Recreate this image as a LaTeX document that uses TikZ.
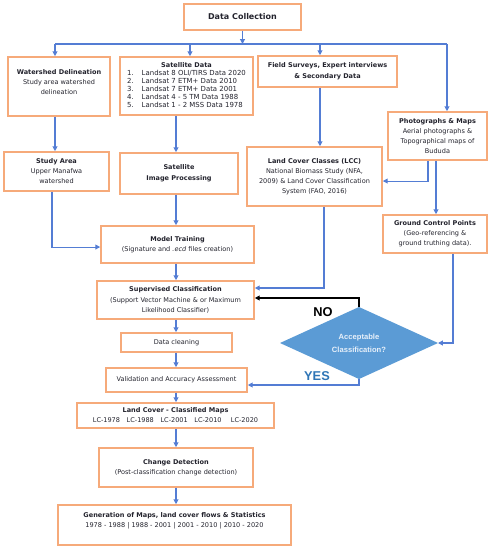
\documentclass[tikz,border=0pt]{standalone}
\usepackage{fontspec}
\setmainfont{DejaVu Sans}
\newfontfamily\libfont{Liberation Sans}
\usetikzlibrary{arrows.meta}
\definecolor{boxor}{RGB}{246,170,122}
\definecolor{lnblue}{RGB}{84,125,212}
\definecolor{dmblue}{RGB}{91,155,213}
\definecolor{yesblue}{RGB}{46,117,182}
\definecolor{txt}{RGB}{35,35,45}
\definecolor{dmtext}{RGB}{232,240,250}
\begin{document}
\begin{tikzpicture}[x=0.75pt,y=-0.75pt,
 box/.style={draw=boxor,line width=1.2pt,align=center,inner sep=0pt,text=txt,font=\fontsize{4.9}{7.5}\selectfont},
 plain/.style={align=center,inner sep=0pt,text=txt,font=\fontsize{4.9}{7.5}\selectfont},
 bw/.style={minimum width=#1*0.75pt},
 bh/.style={minimum height=#1*0.75pt},
 conn/.style={draw=lnblue,line width=0.8pt},
 arr/.style={conn,-{Triangle[length=3.6pt,width=3.6pt]}},
 lbl/.style={font=\libfont\bfseries\fontsize{9.6}{10}\selectfont,inner sep=0pt}
]
\useasboundingbox (0,0) rectangle (490,550);

% boxes
\node[box,bw=117,bh=26,font=\bfseries\fontsize{6}{7.5}\selectfont] (dc) at (242.5,17) {Data Collection};
\node[box,bw=102,bh=59] (wd) at (59,86.5) {};
\node[plain] (wdt) at (59,82) {\textbf{Watershed Delineation}\\Study area watershed\\delineation};
\node[box,bw=133,bh=58,font=\fontsize{5.2}{6}\selectfont] (sd) at (186.5,86) {%
\begin{tabular}{@{}l@{\hspace{6pt}}l@{}}
\multicolumn{2}{c}{\bfseries\fontsize{4.9}{6}\selectfont Satellite Data}\\
1. & Landsat 8 OLI/TIRS Data 2020\\
2. & Landsat 7 ETM+ Data 2010\\
3. & Landsat 7 ETM+ Data 2001\\
4. & Landsat 4 - 5 TM Data 1988\\
5. & Landsat 1 - 2 MSS Data 1978
\end{tabular}};
\node[box,bw=139,bh=31,font=\bfseries\fontsize{4.9}{8}\selectfont] (fs) at (327.5,71.5) {Field Surveys, Expert interviews\\\& Secondary Data};
\node[box,bw=99,bh=48] (pm) at (437.5,136) {\textbf{Photographs \& Maps}\\Aerial photographs \&\\Topographical maps of\\Bududa};
\node[box,bw=105,bh=39] (sa) at (56.5,171.5) {\textbf{Study Area}\\Upper Manafwa\\watershed};
\node[box,bw=118,bh=41,font=\bfseries\fontsize{4.9}{8.2}\selectfont] (sip) at (179,173.5) {Satellite\\Image Processing};
\node[box,bw=135,bh=59] (lcc) at (314.5,176.5) {\textbf{Land Cover Classes (LCC)}\\National Biomass Study (NFA,\\2009) \& Land Cover Classification\\System (FAO, 2016)};
\node[box,bw=104,bh=38] (gcp) at (435,234) {\textbf{Ground Control Points}\\(Geo-referencing \&\\ground truthing data).};
\node[box,bw=153,bh=37] (mt) at (177.5,244.5) {\textbf{Model Training}\\(Signature and \textit{.ecd} files creation)};
\node[box,bw=157,bh=38,font=\fontsize{4.9}{7.9}\selectfont] (sc) at (175.5,300) {\textbf{Supervised Classification}\\(Support Vector Machine \& or Maximum\\Likelihood Classifier)};
\node[box,bw=111,bh=19] (dcl) at (176.5,342.5) {Data cleaning};
\node[box,bw=141,bh=24] (va) at (176.5,380) {Validation and Accuracy Assessment};
\node[box,bw=197,bh=25] (lcm) at (175.5,415.5) {\textbf{Land Cover - Classified Maps}\\LC-1978\hspace{5pt}LC-1988\hspace{5pt}LC-2001\hspace{5pt}LC-2010\hspace{7pt}LC-2020};
\node[box,bw=154,bh=39] (cd) at (176,467.5) {\textbf{Change Detection}\\(Post-classification change detection)};
\node[box,bw=233,bh=40] (gen) at (174.5,525) {};
\node[plain] (gent) at (174.5,521) {\textbf{Generation of Maps, land cover flows \& Statistics}\\1978 - 1988 | 1988 - 2001 | 2001 - 2010 | 2010 - 2020};

% decision diamond
\coordinate (dN) at (359,307);
\coordinate (dE) at (438,343);
\coordinate (dS) at (359,379);
\coordinate (dW) at (280,343);
\fill[dmblue] (dN) -- (dE) -- (dS) -- (dW) -- cycle;
\node[inner sep=0pt,align=center,text=dmtext,font=\libfont\bfseries\fontsize{5.7}{9.6}\selectfont] (acc) at (359,343) {Acceptable\\Classification?};

% bus
\coordinate (b1) at (55,44);
\coordinate (b2) at (190,44);
\coordinate (b3) at (320,44);
\coordinate (b4) at (447,44);
\draw[conn] (b1) -- (b4);
\draw[arr] (dc.south) -- (dc.south |- b1);
\draw[arr] (b1) -- (b1 |- wd.north);
\draw[arr] (b2) -- (b2 |- sd.north);
\draw[arr] (b3) -- (b3 |- fs.north);
\draw[arr] (b4) -- (b4 |- pm.north);

% verticals
\coordinate (xs) at (176,0);
\coordinate (xsa) at (52,0);
\coordinate (xl) at (324,0);
\coordinate (xp1) at (428,0);
\coordinate (xp2) at (436,0);
\coordinate (xg) at (453,0);
\draw[arr] (wd.south -| b1) -- (sa.north -| b1);
\draw[arr] (sd.south -| xs) -- (sip.north -| xs);
\draw[arr] (sip.south -| xs) -- (mt.north -| xs);
\draw[arr] (sa.south -| xsa) |- ([yshift=-1.9pt]mt.west);
\draw[arr] (fs.south -| b3) -- (lcc.north -| b3);
\draw[arr] (pm.south -| xp1) |- ([yshift=-3.4pt]lcc.east);
\draw[arr] (pm.south -| xp2) -- (gcp.north -| xp2);
\draw[arr] (gcp.south -| xg) |- (dE);
\draw[arr] (lcc.south -| xl) |- ([yshift=9pt]sc.east);
\draw[arr] (mt.south -| xs) -- (sc.north -| xs);
\draw[black,line width=0.8pt,-{Triangle[length=3.6pt,width=3.6pt]}] (dN) |- ([yshift=1.5pt]sc.east);
\draw[arr] (dS) |- ([yshift=-3.75pt]va.east);
\draw[arr] (sc.south -| xs) -- (dcl.north -| xs);
\draw[arr] (dcl.south -| xs) -- (va.north -| xs);
\draw[arr] (va.south -| xs) -- (lcm.north -| xs);
\draw[arr] (lcm.south -| xs) -- (cd.north -| xs);
\draw[arr] (cd.south -| xs) -- (gen.north -| xs);

% labels
\node[lbl,text=black] (no) at (323,312) {NO};
\node[lbl,text=yesblue] (yes) at (317,376) {YES};
\end{tikzpicture}
\end{document}
